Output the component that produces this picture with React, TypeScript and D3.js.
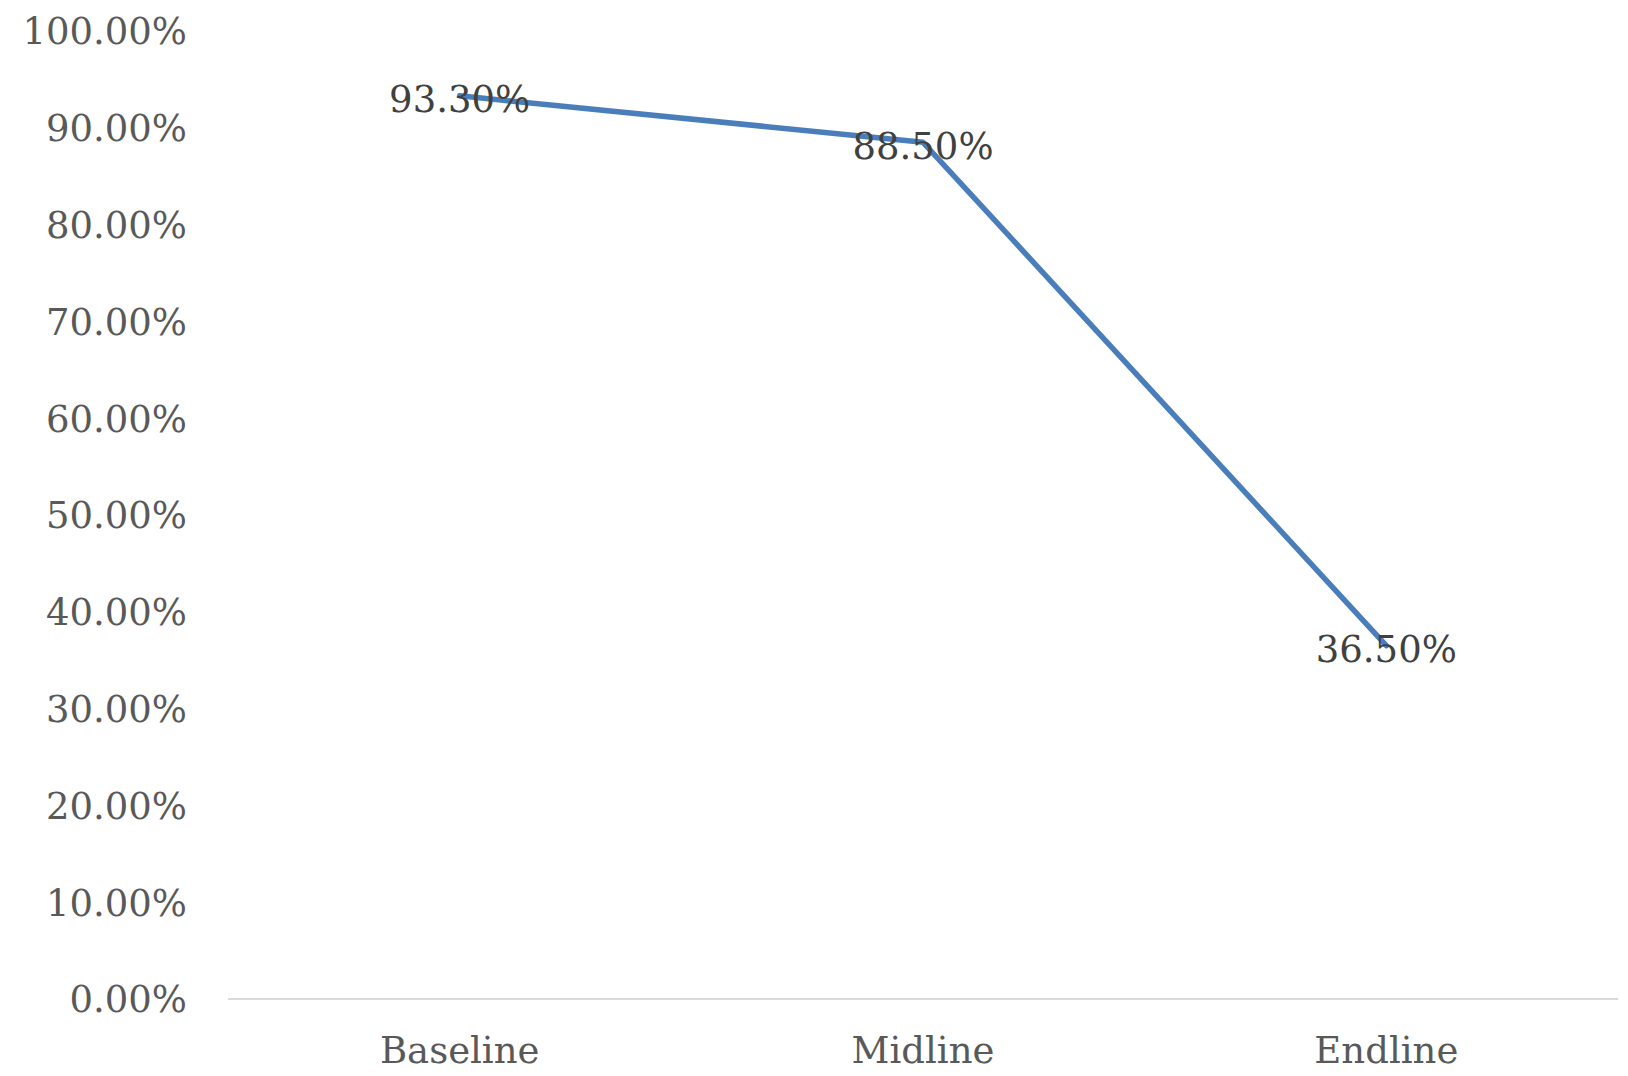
import React, { useEffect, useRef } from "react";
import * as d3 from "d3";

const categories = ["Baseline", "Midline", "Endline"];
const values = [0.933, 0.885, 0.365];
const yTicks = [0, 0.1, 0.2, 0.3, 0.4, 0.5, 0.6, 0.7, 0.8, 0.9, 1.0];

const W = 1628;
const H = 1076;
const FONT = "'DejaVu Serif', 'Liberation Serif', serif";

export default function App() {
  const ref = useRef<SVGSVGElement | null>(null);

  useEffect(() => {
    const svg = d3.select(ref.current);
    svg.selectAll("*").remove();

    const left = 228, right = 1618, top = 31, bottom = 999;
    const x = d3.scaleBand<string>().domain(categories).range([left, right]).padding(0);
    const y = d3.scaleLinear().domain([0, 1]).range([bottom, top]);
    const fmt = d3.format(".2%");

    // y tick labels
    svg.append("g")
      .selectAll("text")
      .data(yTicks)
      .join("text")
      .attr("x", 187)
      .attr("y", (d) => y(d))
      .attr("dy", "0.36em")
      .attr("text-anchor", "end")
      .attr("font-family", FONT)
      .attr("font-size", 37)
      .attr("fill", "#595959")
      .text((d) => fmt(d));

    // x axis line
    svg.append("line")
      .attr("x1", left).attr("x2", right)
      .attr("y1", y(0)).attr("y2", y(0))
      .attr("stroke", "#d9d9d9").attr("stroke-width", 2);

    // x labels
    svg.append("g")
      .selectAll("text")
      .data(categories)
      .join("text")
      .attr("x", (d) => (x(d) as number) + x.bandwidth() / 2)
      .attr("y", 1050)
      .attr("dy", "0.36em")
      .attr("text-anchor", "middle")
      .attr("font-family", FONT)
      .attr("font-size", 37)
      .attr("fill", "#595959")
      .text((d) => d);

    const pts = categories.map((c, i) => [(x(c) as number) + x.bandwidth() / 2, y(values[i])] as [number, number]);

    svg.append("path")
      .attr("d", d3.line()(pts) as string)
      .attr("fill", "none")
      .attr("stroke", "#4a7ebb")
      .attr("stroke-width", 5.5)
      .attr("stroke-linejoin", "round")
      .attr("stroke-linecap", "round");

    svg.append("g")
      .selectAll("text")
      .data(values)
      .join("text")
      .attr("x", (_d, i) => pts[i][0])
      .attr("y", (_d, i) => pts[i][1] + 3)
      .attr("dy", "0.36em")
      .attr("text-anchor", "middle")
      .attr("font-family", FONT)
      .attr("font-size", 37)
      .attr("fill", "#404040")
      .text((d) => fmt(d));
  }, []);

  return (
    <svg
      ref={ref}
      width={W}
      height={H}
      style={{ position: "absolute", left: 0, top: 0, background: "#fff" }}
    />
  );
}
